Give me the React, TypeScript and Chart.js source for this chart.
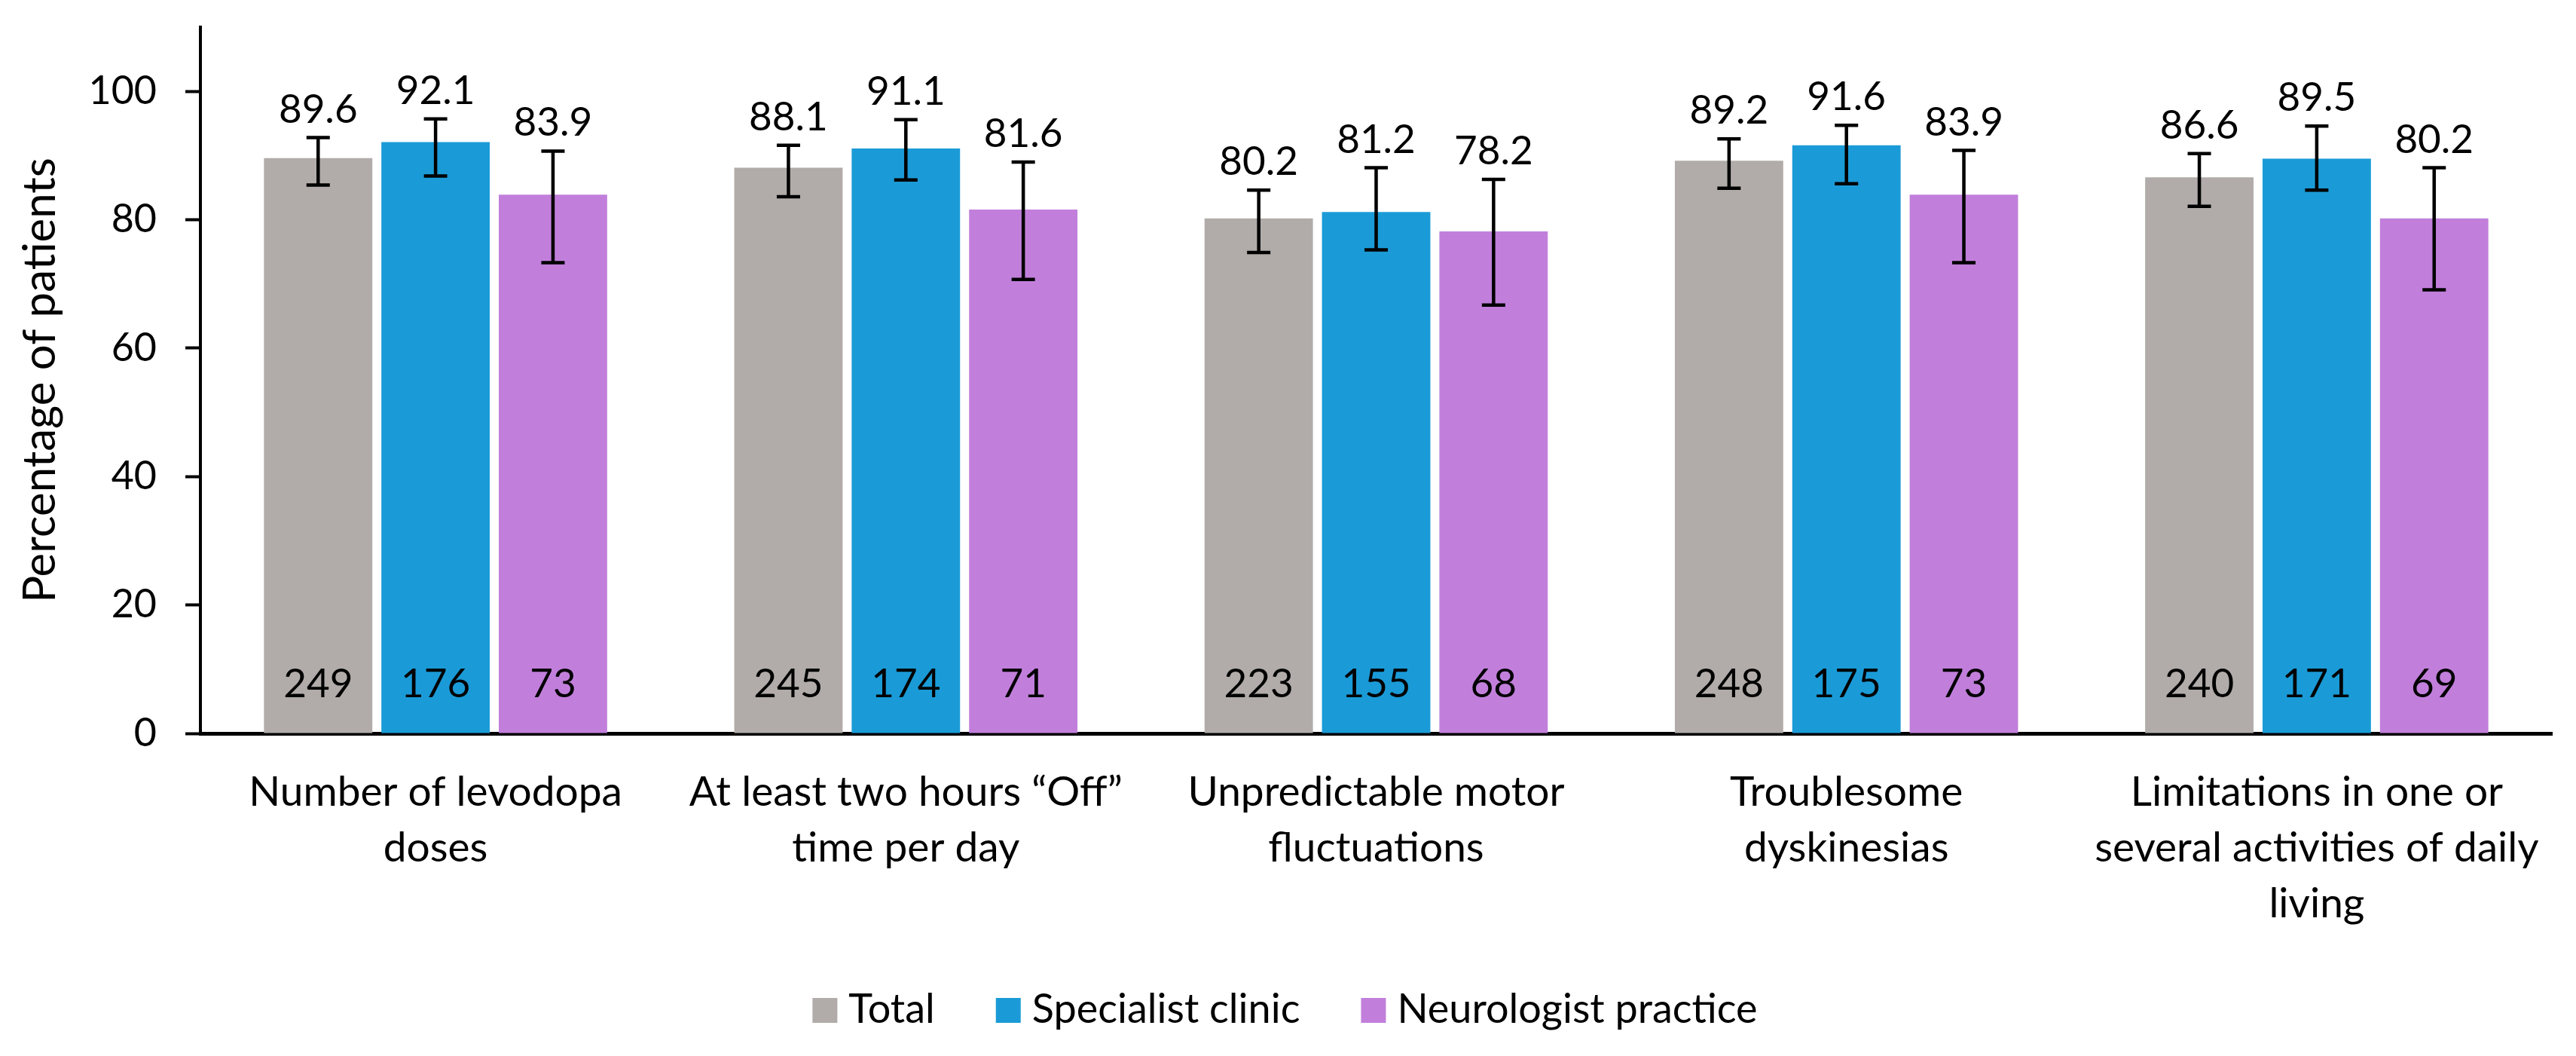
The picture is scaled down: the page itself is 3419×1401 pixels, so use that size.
import React, { useEffect, useRef } from "react";
import { Chart, registerables } from "chart.js";

Chart.register(...registerables);

const categories = [
  ["Number of levodopa", "doses"],
  ["At least two hours \u201cOff\u201d", "time per day"],
  ["Unpredictable motor", "fluctuations"],
  ["Troublesome", "dyskinesias"],
  ["Limitations in one or", "several activities of daily", "living"],
];
const seriesNames = ["Total", "Specialist clinic", "Neurologist practice"];

const totalValues = [89.6, 88.1, 80.2, 89.2, 86.6];
const specialistValues = [92.1, 91.1, 81.2, 91.6, 89.5];
const neurologistValues = [83.9, 81.6, 78.2, 83.9, 80.2];

const totalLower = [85.4, 83.6, 74.9, 84.9, 82.1];
const totalUpper = [92.8, 91.6, 84.6, 92.6, 90.3];
const specialistLower = [86.8, 86.2, 75.3, 85.6, 84.6];
const specialistUpper = [95.7, 95.6, 88.1, 94.7, 94.6];
const neurologistLower = [73.3, 70.7, 66.7, 73.3, 69.1];
const neurologistUpper = [90.7, 89.0, 86.3, 90.8, 88.1];

const totalN = [249, 245, 223, 248, 240];
const specialistN = [176, 174, 155, 175, 171];
const neurologistN = [73, 71, 68, 73, 69];

const yTicks = [0, 20, 40, 60, 80, 100];
const yAxisTitle = "Percentage of patients";

const colors = ["#B1ACA9", "#1A9BD7", "#C17FDB"];
const FONT = "Lato, sans-serif";

const errorBarPlugin = {
  id: "errorBarsAndLabels",
  afterDatasetsDraw(chart: any) {
    const ctx = chart.ctx;
    const yScale = chart.scales.y;
    const zeroY = yScale.getPixelForValue(0);
    ctx.save();
    chart.data.datasets.forEach((ds: any, i: number) => {
      const meta = chart.getDatasetMeta(i);
      meta.data.forEach((bar: any, j: number) => {
        const x = bar.x;
        const yl = yScale.getPixelForValue(ds.lower[j]);
        const yu = yScale.getPixelForValue(ds.upper[j]);
        const cap = 15.5;
        ctx.strokeStyle = "#000";
        ctx.lineWidth = 4.5;
        ctx.lineCap = "butt";
        ctx.beginPath();
        ctx.moveTo(x, yl);
        ctx.lineTo(x, yu);
        ctx.moveTo(x - cap, yl);
        ctx.lineTo(x + cap, yl);
        ctx.moveTo(x - cap, yu);
        ctx.lineTo(x + cap, yu);
        ctx.stroke();

        ctx.fillStyle = "#000";
        ctx.font = `53px ${FONT}`;
        ctx.textAlign = "center";
        ctx.textBaseline = "alphabetic";
        ctx.fillText(ds.data[j].toFixed(1), x, yu - 20);
        ctx.fillText(String(ds.counts[j]), x, zeroY - 48);
      });
    });
    ctx.restore();
  },
};

const legendPlugin = {
  id: "customLegend",
  afterDraw(chart: any) {
    const ctx = chart.ctx;
    ctx.save();
    ctx.font = `54px ${FONT}`;
    const box = 33;
    const gapText = 15;
    const gapItem = 81;
    const items = chart.data.datasets.map((ds: any) => ({
      label: ds.label,
      color: ds.backgroundColor,
      w: ctx.measureText(ds.label).width,
    }));
    const total =
      items.reduce((s: number, it: any) => s + box + gapText + it.w, 0) +
      gapItem * (items.length - 1);
    let x = chart.width / 2 - 4 - total / 2;
    const baseline = chart.height - 44;
    items.forEach((it: any) => {
      ctx.fillStyle = it.color;
      ctx.fillRect(x, baseline - box, box, box);
      x += box + gapText;
      ctx.fillStyle = "#000";
      ctx.textAlign = "left";
      ctx.textBaseline = "alphabetic";
      ctx.fillText(it.label, x, baseline);
      x += it.w + gapItem;
    });
    ctx.restore();
  },
};

export default function App() {
  const ref = useRef<HTMLCanvasElement | null>(null);
  useEffect(() => {
    if (!ref.current) return;
    const chart = new Chart(ref.current, {
      type: "bar",
      data: {
        labels: categories,
        datasets: [
          {
            label: seriesNames[0],
            data: totalValues,
            backgroundColor: colors[0],
            lower: totalLower,
            upper: totalUpper,
            counts: totalN,
          } as any,
          {
            label: seriesNames[1],
            data: specialistValues,
            backgroundColor: colors[1],
            lower: specialistLower,
            upper: specialistUpper,
            counts: specialistN,
          } as any,
          {
            label: seriesNames[2],
            data: neurologistValues,
            backgroundColor: colors[2],
            lower: neurologistLower,
            upper: neurologistUpper,
            counts: neurologistN,
          } as any,
        ],
      },
      options: {
        responsive: false,
        animation: false,
        devicePixelRatio: 1,
        layout: { padding: { left: 0, right: 32, top: 36, bottom: 0 } },
        datasets: {
          bar: { categoryPercentage: 0.749, barPercentage: 0.923 },
        },
        plugins: {
          legend: { display: false },
          tooltip: { enabled: false },
          title: { display: false },
        },
        scales: {
          x: {
            grid: { display: true, drawOnChartArea: false, drawTicks: false },
            border: { display: true, color: "#000", width: 5 },
            ticks: {
              color: "#000",
              font: { family: FONT, size: 55, lineHeight: 1.35 },
              padding: 41,
              maxRotation: 0,
              minRotation: 0,
              autoSkip: false,
            },
            afterFit: (scale: any) => {
              scale.height = 428;
              scale.paddingLeft = 0;
              scale.paddingRight = 0;
            },
          },
          y: {
            min: 0,
            max: 110,
            afterBuildTicks: (scale: any) => {
              scale.ticks = yTicks.map((v) => ({ value: v }));
            },
            grid: {
              display: true,
              drawOnChartArea: false,
              drawTicks: true,
              tickLength: 20,
              tickColor: "#000",
              tickWidth: 4,
            },
            border: { display: true, color: "#000", width: 4 },
            ticks: {
              color: "#000",
              font: { family: FONT, size: 52 },
              padding: 38,
            },
            title: {
              display: true,
              text: yAxisTitle,
              color: "#000",
              font: { family: FONT, size: 60, lineHeight: 1.2 },
              padding: { top: 18, bottom: 0 },
            },
            afterFit: (scale: any) => {
              scale.width = 266;
              scale.paddingTop = 0;
              scale.paddingBottom = 0;
            },
          },
        },
      },
      plugins: [errorBarPlugin, legendPlugin],
    } as any);
    return () => chart.destroy();
  }, []);
  return (
    <div
      style={{
        position: "absolute",
        left: 0,
        top: 0,
        width: 3419,
        height: 1401,
        background: "#fff",
      }}
    >
      <canvas
        ref={ref}
        width={3419}
        height={1401}
        style={{ display: "block", width: 3419, height: 1401 }}
      />
    </div>
  );
}
